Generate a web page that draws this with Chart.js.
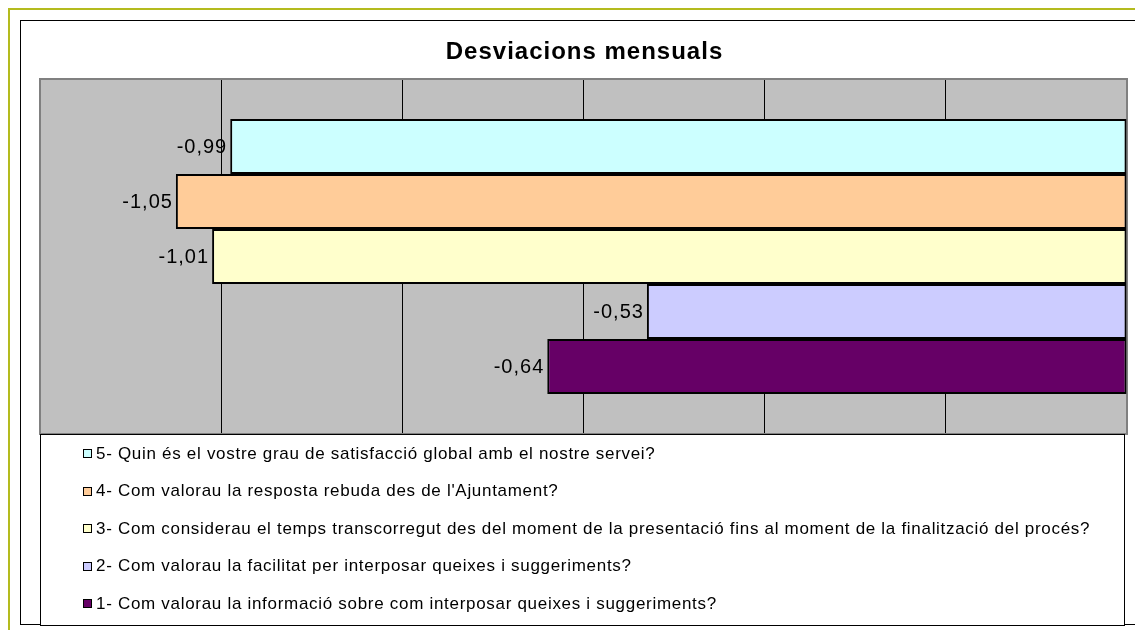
<!DOCTYPE html>
<html>
<head>
<meta charset="utf-8">
<title>Desviacions mensuals</title>
<script src="https://cdn.jsdelivr.net/npm/chart.js@4/dist/chart.umd.min.js"></script>
<style>
  body { margin: 0; background: #fff; }
  canvas { display: block; }
</style>
</head>
<body>
<canvas id="mychart" width="1135" height="630"></canvas>
<script>
// chart data
var title = "Desviacions mensuals"
var categories = [""]
var seriesNames = [
    "5- Quin és el vostre grau de satisfacció global amb el nostre servei?",
    "4- Com valorau la resposta rebuda des de l'Ajuntament?",
    "3- Com considerau el temps transcorregut des del moment de la presentació fins al moment de la finalització del procés?",
    "2- Com valorau la facilitat per interposar queixes i suggeriments?",
    "1- Com valorau la informació sobre com interposar queixes i suggeriments?"
]
var seriesValues = [-0.99, -1.05, -1.01, -0.53, -0.64]
var axisMin = -1.2
var axisMax = 0
var axisStep = 0.2

var colors = ["#ccffff", "#ffcc99", "#ffffcc", "#ccccff", "#660066"]

var datasets = []
for (var i = 0; i < seriesNames.length; i++) {
    datasets.push({
        label: seriesNames[i],
        data: [seriesValues[i]],
        backgroundColor: colors[i],
        borderColor: "#000",
        borderWidth: 2,
        borderSkipped: false,
        barPercentage: 1,
        categoryPercentage: 0.775
    })
}

function fmt(v) {
    return v.toFixed(2).replace(".", ",")
}

// frame, title, plot background, value labels and legend, drawn the way the excel chart looks
var excelLook = {
    id: "excelLook",
    beforeDraw: function(chart) {
        var ctx = chart.ctx
        var ca = chart.chartArea
        ctx.save()
        ctx.fillStyle = "#fff"
        ctx.fillRect(0, 0, chart.width, chart.height)

        // outer olive frame
        ctx.strokeStyle = "#b4bb1e"
        ctx.lineWidth = 2
        ctx.strokeRect(9, 9, chart.width + 20, chart.height + 20)

        // chart border
        ctx.strokeStyle = "#000"
        ctx.lineWidth = 1
        ctx.strokeRect(20.5, 20.5, chart.width + 20, 604)

        // title
        ctx.fillStyle = "#000"
        ctx.font = "bold 24px Arial, 'Liberation Sans'"
        ctx.letterSpacing = "1px"
        ctx.textAlign = "center"
        ctx.textBaseline = "middle"
        ctx.fillText(title, (ca.left + ca.right) / 2 + 1, 52)

        // plot area
        ctx.fillStyle = "#c0c0c0"
        ctx.fillRect(ca.left, ca.top, ca.width, ca.height)
        ctx.restore()
    },
    beforeDatasetsDraw: function(chart) {
        var ctx = chart.ctx
        var ca = chart.chartArea
        ctx.save()
        ctx.strokeStyle = "#808080"
        ctx.lineWidth = 2
        ctx.strokeRect(ca.left, ca.top, ca.width, ca.height)
        ctx.restore()
    },
    afterDatasetsDraw: function(chart) {
        var ctx = chart.ctx
        ctx.save()
        ctx.fillStyle = "#000"
        ctx.font = "20px Arial, 'Liberation Sans'"
        ctx.letterSpacing = "1px"
        ctx.textAlign = "right"
        ctx.textBaseline = "middle"
        chart.data.datasets.forEach(function(ds, i) {
            var bar = chart.getDatasetMeta(i).data[0]
            ctx.fillText(fmt(ds.data[0]), bar.x - 3, bar.y + 1)
        })
        ctx.restore()
    },
    afterDraw: function(chart) {
        var ctx = chart.ctx
        var ca = chart.chartArea
        var top = ca.bottom
        ctx.save()
        ctx.fillStyle = "#fff"
        ctx.fillRect(ca.left, top, 1124 - ca.left, 625 - top)
        ctx.strokeStyle = "#000"
        ctx.lineWidth = 1
        ctx.strokeRect(ca.left + 0.5, top + 0.5, 1124 - ca.left, 625 - top)

        ctx.font = "17px Arial, 'Liberation Sans'"
        ctx.letterSpacing = "0.7px"
        ctx.textAlign = "left"
        ctx.textBaseline = "middle"
        chart.data.datasets.forEach(function(ds, i) {
            var y = 454 + i * 37.5
            ctx.fillStyle = ds.backgroundColor
            ctx.fillRect(83.5, Math.round(y) - 4.5, 8, 8)
            ctx.strokeStyle = "#000"
            ctx.strokeRect(83.5, Math.round(y) - 4.5, 8, 8)
            ctx.fillStyle = "#000"
            ctx.fillText(ds.label, 96, y)
        })
        ctx.restore()
    }
}

var mychart = document.getElementById("mychart").getContext("2d")

var chart = new Chart(mychart, {
    type: "bar",
    data: {
        labels: categories,
        datasets: datasets
    },
    options: {
        indexAxis: "y",
        responsive: false,
        animation: false,
        devicePixelRatio: 1,
        layout: {
            padding: { left: 40, right: 8, top: 79, bottom: 196 }
        },
        plugins: {
            legend: { display: false },
            title: { display: false },
            tooltip: { enabled: false }
        },
        scales: {
            x: {
                min: axisMin,
                max: axisMax,
                ticks: { display: false, stepSize: axisStep },
                grid: { color: "#000", lineWidth: 1, drawTicks: false },
                border: { display: false }
            },
            y: {
                display: false
            }
        }
    },
    plugins: [excelLook]
})
</script>
</body>
</html>
